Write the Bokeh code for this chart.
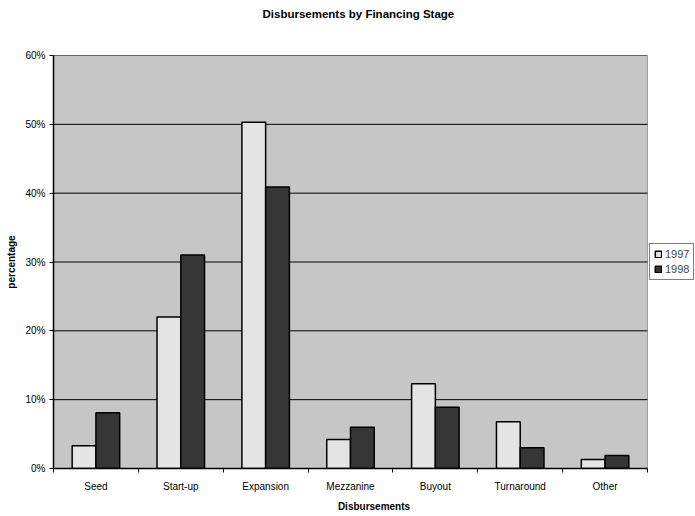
from bokeh.plotting import figure
from bokeh.models import (FixedTicker, PrintfTickFormatter, Legend, LegendItem, Range1d,
                          ColumnDataSource, BoxAnnotation)
from bokeh.embed import file_html
from bokeh.resources import INLINE

categories = ["Seed", "Start-up", "Expansion", "Mezzanine", "Buyout", "Turnaround", "Other"]
pct_1997 = [3.3, 22.0, 50.3, 4.2, 12.3, 6.8, 1.3]
pct_1998 = [8.1, 31.0, 40.9, 6.0, 8.9, 3.0, 1.9]
y_ticks = [0, 10, 20, 30, 40, 50, 60]
series_names = ["1997", "1998"]
title_text = "Disbursements by Financing Stage"

n = len(categories)
bar_w = 0.28
centers = [i + 0.5 for i in range(n)]
src = ColumnDataSource(dict(
    x97=[c - bar_w / 2 for c in centers],
    x98=[c + bar_w / 2 for c in centers],
    v97=pct_1997,
    v98=pct_1998,
))

FONT = "Liberation Sans"
W, H = 694, 514
LEFT, PLOT_W = 53, 594          # frame left border and width of the category area
frame_w = W - LEFT

p = figure(width=W, height=H, output_backend="svg", toolbar_location=None,
           x_range=Range1d(0, n * frame_w / PLOT_W), y_range=Range1d(y_ticks[0], y_ticks[-1]),
           min_border_left=LEFT, min_border_right=0, min_border_top=55, min_border_bottom=44)
p.title.text = title_text + "\n\n"
p.title.align = "left"
p.title.offset = 209
p.title.text_font = FONT
p.title.text_font_size = "11.5px"
p.title.text_font_style = "bold"
p.title.text_color = "black"
p.title.text_line_height = 1.4
p.title.standoff = 4

p.background_fill_color = "white"
p.border_fill_color = "white"
p.outline_line_color = None

# grey plotting area
p.add_layout(BoxAnnotation(left=0, right=n, bottom=y_ticks[0], top=y_ticks[-1],
                           fill_color="#c6c6c6", fill_alpha=1.0,
                           line_color="black", line_width=1, level="underlay"))

p.xgrid.visible = False
p.ygrid.visible = False
p.segment(x0=[0] * len(y_ticks), x1=[n] * len(y_ticks), y0=y_ticks, y1=y_ticks,
          line_color="black", line_width=1)

r97 = p.vbar(x="x97", top="v97", width=bar_w, source=src, fill_color="#e4e4e4",
             line_color="black", line_width=1.5)
r98 = p.vbar(x="x98", top="v98", width=bar_w, source=src, fill_color="#363636",
             line_color="black", line_width=1.5)

# x axis: labels at category centres, ticks at boundaries
p.xaxis.ticker = FixedTicker(ticks=centers, minor_ticks=list(range(n + 1)))
p.xaxis.major_label_overrides = {c: name for c, name in zip(centers, categories)}
p.xaxis.major_tick_line_color = None
p.xaxis.minor_tick_line_color = "black"
p.xaxis.minor_tick_out = 4
p.xaxis.minor_tick_in = 0
p.xaxis.bounds = (0, n)
p.xaxis.axis_label = "Disbursements"

p.yaxis.ticker = FixedTicker(ticks=y_ticks)
p.yaxis.formatter = PrintfTickFormatter(format="%d%%")
p.yaxis.minor_tick_line_color = None
p.yaxis.major_tick_out = 4
p.yaxis.major_tick_in = 0
p.yaxis.axis_label = "percentage"

for ax in (p.xaxis[0], p.yaxis[0]):
    ax.axis_line_color = "black"
    ax.axis_line_width = 1.5
    ax.major_label_text_font = FONT
    ax.major_label_text_font_size = "10px"
    ax.major_label_text_color = "black"
    ax.axis_label_text_font = FONT
    ax.axis_label_text_font_size = "10px"
    ax.axis_label_text_font_style = "bold"
    ax.axis_label_text_color = "black"
p.xaxis.major_label_standoff = 6
p.xaxis.axis_label_standoff = 6
p.yaxis.major_label_standoff = 4
p.yaxis.axis_label_standoff = 5

legend = Legend(items=[LegendItem(label=series_names[0], renderers=[r97]),
                       LegendItem(label=series_names[1], renderers=[r98])],
                location=(PLOT_W + 2, 188), margin=0, padding=4, spacing=3,
                glyph_width=8, glyph_height=8, label_standoff=3,
                label_text_font=FONT, label_text_font_size="11px",
                label_height=12, border_line_color="black", border_line_width=1,
                background_fill_color="white")
p.add_layout(legend)

open("out.html", "w").write(file_html(p, INLINE))
